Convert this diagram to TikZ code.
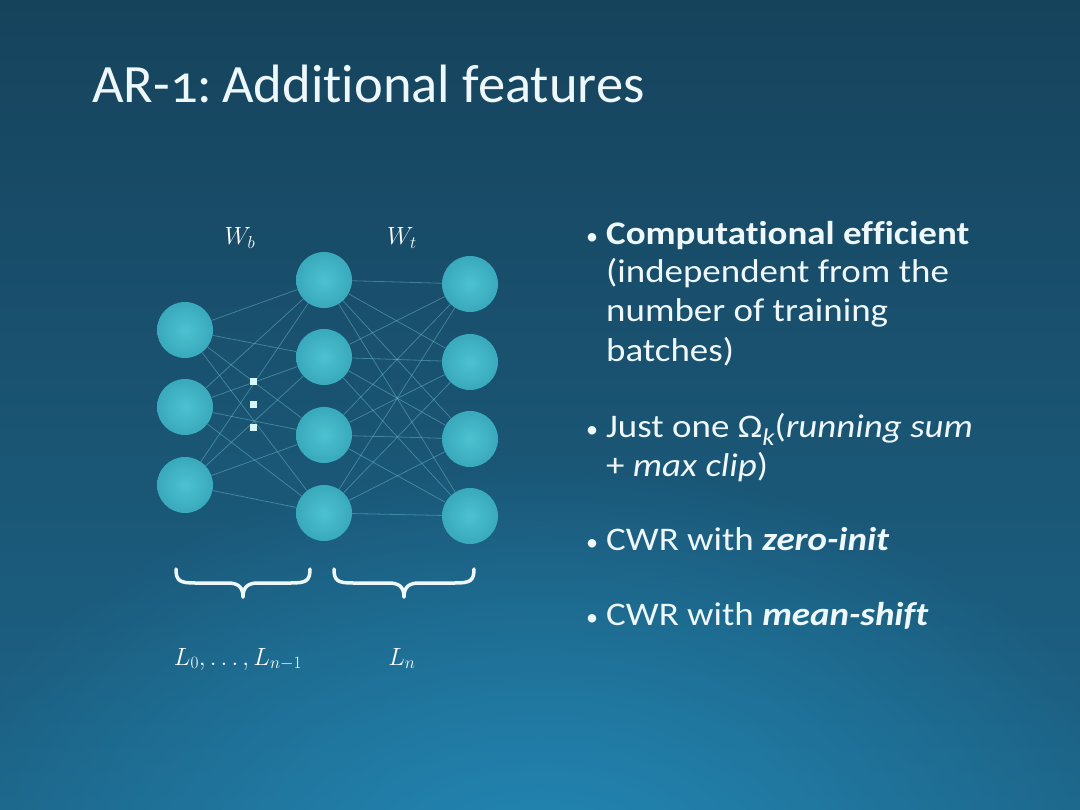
\documentclass[tikz,border=0pt]{standalone}
\usepackage{fontspec}
\setmainfont{Carlito}[Ligatures={NoCommon}]
\newfontfamily\titlefont{Carlito}[Numbers=OldStyle, Ligatures={NoCommon}, FakeStretch=1.01]
\newfontfamily\bodyfont{Carlito}[Ligatures={NoCommon}, FakeStretch=1.12]
\usetikzlibrary{fadings}
\definecolor{bgtop}{HTML}{16435C}
\definecolor{bgbot}{HTML}{1D6488}
\definecolor{glow}{HTML}{2389B6}
\definecolor{neuin}{HTML}{4CC2D0}
\definecolor{neuout}{HTML}{39A9BC}
\definecolor{wire}{HTML}{6EC0CF}
\definecolor{txt}{HTML}{EEF7FA}
\tikzfading[name=glowfade, inner color=transparent!0, outer color=transparent!100]
\pgfdeclarelayer{bglayer}
\pgfdeclarelayer{wirelayer}
\pgfsetlayers{bglayer,wirelayer,main}
\tikzset{
  neuron/.style={circle, minimum size=56pt, inner sep=0pt, draw=none,
    inner color=neuin, outer color=neuout},
  wireline/.style={wire, opacity=0.45, line width=0.8pt},
  dotsq/.style={rectangle, minimum size=7pt, inner sep=0pt, fill=txt!90!cyan},
  bracestyle/.style={txt, line width=3.5pt, line cap=round, line join=round},
  mathlbl/.style={white, font=\fontsize{26}{30}\selectfont, inner sep=0pt},
  bodytext/.style={txt, anchor=base west, inner sep=0pt, font=\bodyfont\fontsize{33}{39}\selectfont},
  bulletmark/.style={txt, anchor=base west, inner sep=0pt, font=\fontsize{24}{30}\selectfont},
}
\begin{document}
\begin{tikzpicture}[x=1pt,y=-1pt]
\useasboundingbox (0,0) rectangle (1080,810);
% background
\begin{pgfonlayer}{bglayer}
\shade[top color=bgtop, bottom color=bgbot] (0,0) rectangle (1080,810);
\fill[glow, path fading=glowfade] (540,880) ellipse (620 and 420);
\end{pgfonlayer}

% title
\node[anchor=base west, inner sep=0pt, txt, font=\titlefont\fontsize{54}{60}\selectfont] (title) at (92,103) {AR-1:\hspace{-0.12em} Additional features};

% neurons
\foreach \i/\y in {1/330,2/407,3/485} \node[neuron] (l\i) at (185,\y) {};
\foreach \i/\y in {1/280,2/357,3/435,4/513} \node[neuron] (m\i) at (324,\y) {};
\foreach \i/\y in {1/284,2/362,3/439,4/516} \node[neuron] (r\i) at (470,\y) {};

% connections
\begin{pgfonlayer}{wirelayer}
\foreach \a in {1,2,3} \foreach \b in {1,2,3,4} \draw[wireline] (l\a) -- (m\b);
\foreach \a in {1,2,3,4} \foreach \b in {1,2,3,4} \draw[wireline] (m\a) -- (r\b);
\end{pgfonlayer}

% vertical dots
\node[dotsq] (d1) at (253,382) {};
\node[dotsq] (d2) at (253,405) {};
\node[dotsq] (d3) at (253,428) {};

% weight labels
\node[mathlbl, anchor=base] (wb) at (240,245) {$W_b$};
\node[mathlbl, anchor=base] (wt) at (402,245) {$W_t$};

% braces
\draw[bracestyle] (176,569) .. controls (176,581) and (180,583) .. (195,583) -- (228,583) .. controls (238,583) and (243,587) .. (243,597);
\draw[bracestyle] (310,569) .. controls (310,581) and (306,583) .. (291,583) -- (258,583) .. controls (248,583) and (243,587) .. (243,597);
\draw[bracestyle] (334,569) .. controls (334,581) and (338,583) .. (353,583) -- (389,583) .. controls (399,583) and (404,587) .. (404,597);
\draw[bracestyle] (474,569) .. controls (474,581) and (470,583) .. (455,583) -- (419,583) .. controls (409,583) and (404,587) .. (404,597);

% layer labels
\node[mathlbl, anchor=base] (lhid) at (238,665) {$L_0,\dots,L_{n-1}$};
\node[mathlbl, anchor=base] (lout) at (402,665) {$L_n$};

% bullets
\foreach \y in {245,438,550,625} \node[bulletmark] at (586,\y) {\textbullet};
\node[bodytext] (b1a) at (606,245) {\bfseries Computational efficient};
\node[bodytext] (b1b) at (606,283) {(independent from the};
\node[bodytext] (b1c) at (606,322) {number of training};
\node[bodytext] (b1d) at (606,362) {batches)};
\node[bodytext] (b2a) at (606,438) {Just one Ω\raisebox{-0.22em}{\fontsize{24}{24}\selectfont\itshape k}(\textit{running sum}};
\node[bodytext] (b2b) at (606,476) {+ \textit{max clip})};
\node[bodytext] (b3) at (606,550) {CWR with \textbf{\textit{zero-init}}};
\node[bodytext] (b4) at (606,625) {CWR with \textbf{\textit{mean-shift}}};
\end{tikzpicture}
\end{document}
